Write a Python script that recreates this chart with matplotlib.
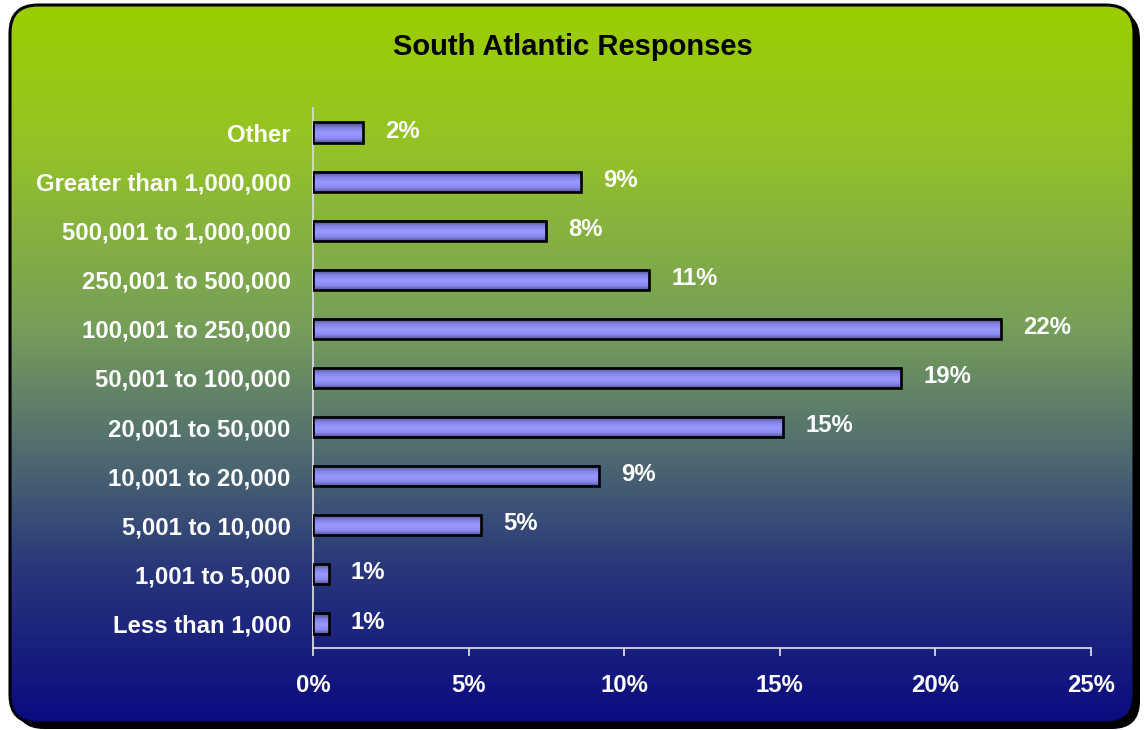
import numpy as np
import matplotlib
matplotlib.use('Agg')
import matplotlib.pyplot as plt
from matplotlib.patches import FancyBboxPatch
from matplotlib.colors import LinearSegmentedColormap

# survey data (percent of responses)
categories = ['Less than 1,000', '1,001 to 5,000', '5,001 to 10,000',
              '10,001 to 20,000', '20,001 to 50,000', '50,001 to 100,000',
              '100,001 to 250,000', '250,001 to 500,000', '500,001 to 1,000,000',
              'Greater than 1,000,000', 'Other']
shares = [0.5, 0.5, 5.4, 9.2, 15.1, 18.9, 22.1, 10.8, 7.5, 8.6, 1.6]
xticks = [0, 5, 10, 15, 20, 25]
title = 'South Atlantic Responses'

plt.rcParams['font.family'] = ['Liberation Sans', 'DejaVu Sans']
plt.rcParams['font.weight'] = 'bold'

W, H = 1145, 730
fig = plt.figure(figsize=(W / 100, H / 100), dpi=100)

# background card with shadow and vertical gradient
bg = fig.add_axes([0, 0, 1, 1])
bg.set_xlim(0, W)
bg.set_ylim(0, H)
bg.axis('off')

x0, y0, cw, ch = 10, 7, 1124, 718
shadow = FancyBboxPatch((x0 + 6, y0 - 6), cw, ch,
                        boxstyle='round,pad=0,rounding_size=28',
                        fc='black', ec='none', zorder=0)
bg.add_patch(shadow)

bg_cmap = LinearSegmentedColormap.from_list('card', [
    (0.00, (155 / 255, 206 / 255, 0 / 255)),
    (0.20, (148 / 255, 194 / 255, 40 / 255)),
    (0.45, (118 / 255, 158 / 255, 90 / 255)),
    (0.60, (85 / 255, 115 / 255, 110 / 255)),
    (0.78, (42 / 255, 56 / 255, 122 / 255)),
    (1.00, (10 / 255, 10 / 255, 128 / 255)),
])
grad = np.linspace(0, 1, 256).reshape(-1, 1)
card = FancyBboxPatch((x0, y0), cw, ch, boxstyle='round,pad=0,rounding_size=28',
                      fc='none', ec='black', lw=2.2, zorder=2)
bg.add_patch(card)
im = bg.imshow(grad, extent=[x0, x0 + cw, y0, y0 + ch], aspect='auto',
               cmap=bg_cmap, origin='upper', zorder=1)
im.set_clip_path(card)

fig.text(0.5005, (H - 47) / H, title, ha='center', va='center',
         fontsize=21, fontweight='bold', color='black')

# bar chart
ax = fig.add_axes([313 / W, (H - 648) / H, (1091 - 313) / W, (648 - 108) / H])
ax.set_facecolor('none')

ypos = np.arange(len(categories))
bh = 0.41
bar_cmap = LinearSegmentedColormap.from_list('bar', [
    (0.00, '#4a4a80'), (0.30, '#8585e8'), (0.55, '#9999ff'),
    (0.80, '#8888ee'), (1.00, '#55559a')])
bar_grad = np.linspace(0, 1, 64).reshape(-1, 1)
for y, v in zip(ypos, shares):
    ax.imshow(bar_grad, extent=[0, v, y - bh / 2, y + bh / 2], aspect='auto',
              cmap=bar_cmap, origin='upper', zorder=2)
ax.barh(ypos, shares, height=bh, fc='none', ec='black', lw=1.9, zorder=3)

for y, v in zip(ypos, shares):
    ax.annotate(f'{int(v + 0.5)}%', (v, y), xytext=(16, 1),
                textcoords='offset points', va='center', ha='left',
                color='white', fontsize=17.2, fontweight='bold')

ax.set_xlim(0, 25)
ax.set_ylim(-0.5, len(categories) - 0.5)
ax.set_xticks(xticks)
ax.set_xticklabels([f'{t}%' for t in xticks])
ax.set_yticks(ypos)
ax.set_yticklabels(categories)

axis_col = '#d8d8e0'
for side in ['top', 'right']:
    ax.spines[side].set_visible(False)
for side in ['left', 'bottom']:
    ax.spines[side].set_color(axis_col)
    ax.spines[side].set_linewidth(1.3)
ax.tick_params(axis='x', colors=axis_col, length=6, width=1.3, pad=13,
               labelcolor='white', labelsize=17.2)
ax.tick_params(axis='y', length=0, pad=16, labelcolor='white', labelsize=17.2)

fig.savefig('out.png', dpi=100)
